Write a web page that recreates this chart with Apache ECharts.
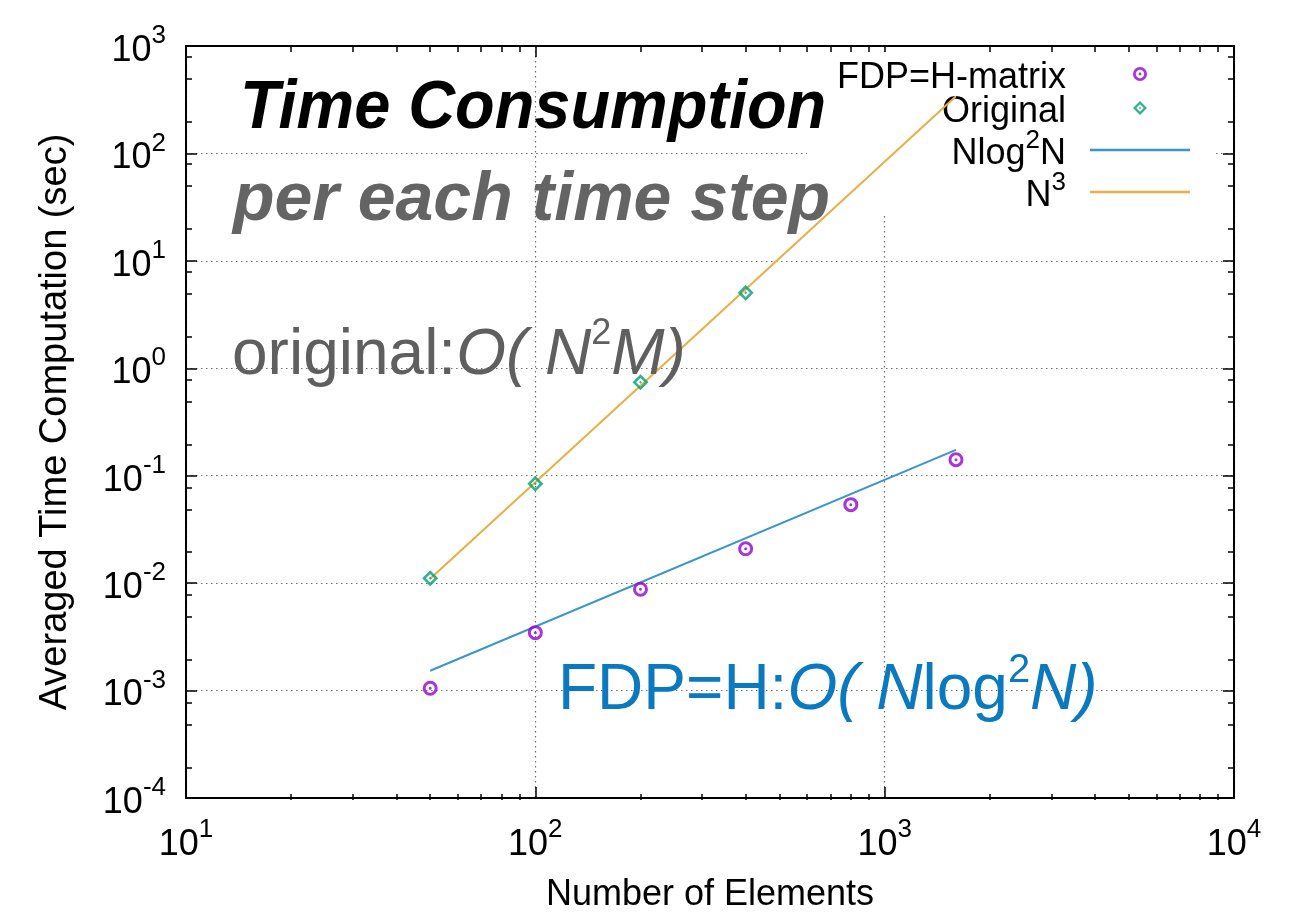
<!DOCTYPE html>
<html>
<head>
<meta charset="utf-8">
<script src="https://cdn.jsdelivr.net/npm/echarts@6/dist/echarts.min.js"></script>
<style>
html, body { margin: 0; padding: 0; background: #fff; }
#chart { width: 1304px; height: 918px; }
</style>
</head>
<body>
<div id="chart"></div>
<script>
// measured values
var hmatrixN = [50, 100, 200, 400, 800, 1600];
var hmatrixTime = [0.00105, 0.00346, 0.00878, 0.0209, 0.0538, 0.141];
var originalN = [50, 100, 200, 400];
var originalTime = [0.0111, 0.084, 0.74, 5.05];
// fitted guide lines (end points)
var nlog2nN = [50, 1600];
var nlog2nTime = [0.00153, 0.174];
var n3N = [50, 1600];
var n3Time = [0.0110, 340];

var seriesNames = ['FDP=H-matrix', 'Original', 'Nlog²N', 'N³'];
var legendLabels = ['{t|FDP=H-matrix}', '{t|Original}', '{t|Nlog}{s|2}{t|N}', '{t|N}{s|3}'];

var xMinorTicks = [20, 30, 40, 50, 60, 70, 80, 90, 200, 300, 400, 500, 600, 700, 800, 900, 2000, 3000, 4000, 5000, 6000, 7000, 8000, 9000];
var yMinorTicks = [0.0002, 0.0005, 0.0008, 0.002, 0.005, 0.008, 0.02, 0.05, 0.08, 0.2, 0.5, 0.8, 2, 5, 8, 20, 50, 80, 200, 500, 800];

var colors = ['#9400d3', '#009e73', '#3a95cf', '#e9ae45'];
var font = 'Liberation Sans';

var ringDot = 'path://M10,0 A10,10 0 1,1 10,20 A10,10 0 1,1 10,0 Z M10,4 A6,6 0 1,0 10,16 A6,6 0 1,0 10,4 Z M10,8 A2,2 0 1,1 10,12 A2,2 0 1,1 10,8 Z';
var diamondDot = 'path://M10,0 L20,10 L10,20 L0,10 Z M10,4.6 L4.6,10 L10,15.4 L15.4,10 Z M10,8.2 L11.8,10 L10,11.8 L8.2,10 Z';
var lineIcon = 'path://M0,0 H100 V2.4 H0 Z';

function pairs(xs, ys) {
	var out = [];
	for (var i = 0; i < xs.length; i++) {
		out.push([xs[i], ys[i]]);
	}
	return out;
}

function powLabel(v) {
	var e = Math.round(Math.log10(v));
	return '{b|10}{s|' + e + '}';
}

var tickRich = {
	b : { fontFamily : font, fontSize : 36, color : '#000', lineHeight : 46, verticalAlign : 'bottom' },
	s : { fontFamily : font, fontSize : 26, color : '#000', lineHeight : 14, verticalAlign : 'top' }
};

var gridRect = { left : 186, right : 70, top : 46, bottom : 118 };
var boxLine = { show : true, onZero : false, lineStyle : { color : '#000', width : 2 } };
var majorTick = { show : true, inside : true, length : 11, lineStyle : { color : '#000', width : 1.5 } };
var gridDots = { show : true, lineStyle : { color : '#707070', width : 1.2, type : [ 1.5, 3.5 ] } };

function minorAxis(gridIndex, position, min, max, ticks) {
	return {
		type : 'log',
		gridIndex : gridIndex,
		position : position,
		min : min,
		max : max,
		axisLine : { show : false },
		axisLabel : { show : false },
		splitLine : { show : false },
		axisTick : { show : true, inside : true, length : 6, customValues : ticks, lineStyle : { color : '#000', width : 1.5 } }
	};
}

var chart = echarts.init(document.getElementById('chart'));

var option = {
	backgroundColor : '#fff',
	animation : false,
	grid : [
		{ left : gridRect.left, right : gridRect.right, top : gridRect.top, bottom : gridRect.bottom },
		{ left : gridRect.left, right : gridRect.right, top : gridRect.top, bottom : gridRect.bottom },
		{ left : gridRect.left, right : gridRect.right, top : gridRect.top, bottom : gridRect.bottom }
	],
	xAxis : [ {
		type : 'log',
		gridIndex : 0,
		position : 'bottom',
		min : 10,
		max : 10000,
		axisLine : boxLine,
		axisTick : majorTick,
		splitLine : gridDots,
		axisLabel : { formatter : powLabel, rich : tickRich, margin : 19 },
		name : 'Number of Elements',
		nameLocation : 'middle',
		nameGap : 79,
		nameTextStyle : { fontFamily : font, fontSize : 36, color : '#000' }
	}, {
		type : 'log',
		gridIndex : 0,
		position : 'top',
		min : 10,
		max : 10000,
		axisLine : boxLine,
		axisTick : majorTick,
		splitLine : { show : false },
		axisLabel : { show : false }
	},
		minorAxis(1, 'bottom', 10, 10000, xMinorTicks),
		minorAxis(2, 'top', 10, 10000, xMinorTicks)
	],
	yAxis : [ {
		type : 'log',
		gridIndex : 0,
		position : 'left',
		min : 0.0001,
		max : 1000,
		axisLine : boxLine,
		axisTick : majorTick,
		splitLine : gridDots,
		axisLabel : { formatter : powLabel, rich : tickRich, margin : 20 },
		name : 'Averaged Time Computation (sec)',
		nameLocation : 'middle',
		nameGap : 111,
		nameTextStyle : { fontFamily : font, fontSize : 38, color : '#000' }
	}, {
		type : 'log',
		gridIndex : 0,
		position : 'right',
		min : 0.0001,
		max : 1000,
		axisLine : boxLine,
		axisTick : majorTick,
		splitLine : { show : false },
		axisLabel : { show : false }
	},
		minorAxis(1, 'left', 0.0001, 1000, yMinorTicks),
		minorAxis(2, 'right', 0.0001, 1000, yMinorTicks)
	],
	legend : {
		orient : 'vertical',
		right : 89,
		top : 52,
		align : 'right',
		itemWidth : 100,
		itemHeight : 14,
		itemGap : -2,
		backgroundColor : '#fff',
		padding : [ 8, 25, 0, 30 ],
		selectedMode : false,
		formatter : function(name) {
			return legendLabels[seriesNames.indexOf(name)];
		},
		textStyle : {
			width : 234,
			padding : [ 0, 19, 0, 0 ],
			fontFamily : font,
			fontSize : 36,
			color : '#000',
			rich : {
				t : { fontFamily : font, fontSize : 36, color : '#000', lineHeight : 44, verticalAlign : 'bottom' },
				s : { fontFamily : font, fontSize : 26, color : '#000', lineHeight : 14, verticalAlign : 'top' }
			}
		},
		data : [
			{ name : seriesNames[0], icon : ringDot, itemStyle : { color : colors[0] } },
			{ name : seriesNames[1], icon : diamondDot, itemStyle : { color : colors[1] } },
			{ name : seriesNames[2], icon : lineIcon, itemStyle : { color : colors[2] } },
			{ name : seriesNames[3], icon : lineIcon, itemStyle : { color : colors[3] } }
		]
	},
	graphic : [ {
		type : 'text',
		x : 240,
		y : 109,
		scaleX : 0.94,
		z : 10,
		style : {
			text : 'Time Consumption',
			fontFamily : font,
			fontSize : 69,
			fontWeight : 'bold',
			fontStyle : 'italic',
			fill : '#000',
			verticalAlign : 'middle'
		}
	}, {
		type : 'text',
		x : 233,
		y : 201,
		z : 10,
		style : {
			text : 'per each time step',
			fontFamily : font,
			fontSize : 68,
			fontWeight : 'bold',
			fontStyle : 'italic',
			fill : '#646464',
			verticalAlign : 'middle'
		}
	}, {
		type : 'text',
		x : 232,
		y : 352,
		z : 10,
		style : {
			text : '{n|original:}{i|O( N}{s|2}{i|M)}',
			verticalAlign : 'middle',
			rich : {
				n : { fontFamily : font, fontSize : 64, fill : '#5f5f5f', lineHeight : 72, verticalAlign : 'bottom' },
				i : { fontFamily : font, fontSize : 64, fontStyle : 'italic', fill : '#5f5f5f', lineHeight : 72, verticalAlign : 'bottom' },
				s : { fontFamily : font, fontSize : 36, fill : '#5f5f5f', lineHeight : 40, verticalAlign : 'top' }
			}
		}
	}, {
		type : 'text',
		x : 558,
		y : 687,
		z : 10,
		style : {
			text : '{n|FDP=H:}{i|O( N}{n|log}{s|2}{i|N)}',
			verticalAlign : 'middle',
			rich : {
				n : { fontFamily : font, fontSize : 64, fill : '#0a79bf', lineHeight : 72, verticalAlign : 'bottom' },
				i : { fontFamily : font, fontSize : 64, fontStyle : 'italic', fill : '#0a79bf', lineHeight : 72, verticalAlign : 'bottom' },
				s : { fontFamily : font, fontSize : 40, fill : '#0a79bf', lineHeight : 42, verticalAlign : 'top' }
			}
		}
	} ],
	series : [ {
		name : seriesNames[0],
		type : 'scatter',
		xAxisIndex : 0,
		yAxisIndex : 0,
		symbol : ringDot,
		symbolSize : 15,
		itemStyle : { color : colors[0] },
		z : 6,
		data : pairs(hmatrixN, hmatrixTime)
	}, {
		name : seriesNames[1],
		type : 'scatter',
		xAxisIndex : 0,
		yAxisIndex : 0,
		symbol : diamondDot,
		symbolSize : 16,
		itemStyle : { color : colors[1] },
		z : 6,
		data : pairs(originalN, originalTime)
	}, {
		name : seriesNames[2],
		type : 'line',
		xAxisIndex : 0,
		yAxisIndex : 0,
		symbol : 'none',
		lineStyle : { color : colors[2], width : 2 },
		itemStyle : { color : colors[2] },
		z : 5,
		data : pairs(nlog2nN, nlog2nTime)
	}, {
		name : seriesNames[3],
		type : 'line',
		xAxisIndex : 0,
		yAxisIndex : 0,
		symbol : 'none',
		lineStyle : { color : colors[3], width : 2 },
		itemStyle : { color : colors[3] },
		z : 5,
		data : pairs(n3N, n3Time)
	} ]
};

chart.setOption(option);
</script>
</body>
</html>
